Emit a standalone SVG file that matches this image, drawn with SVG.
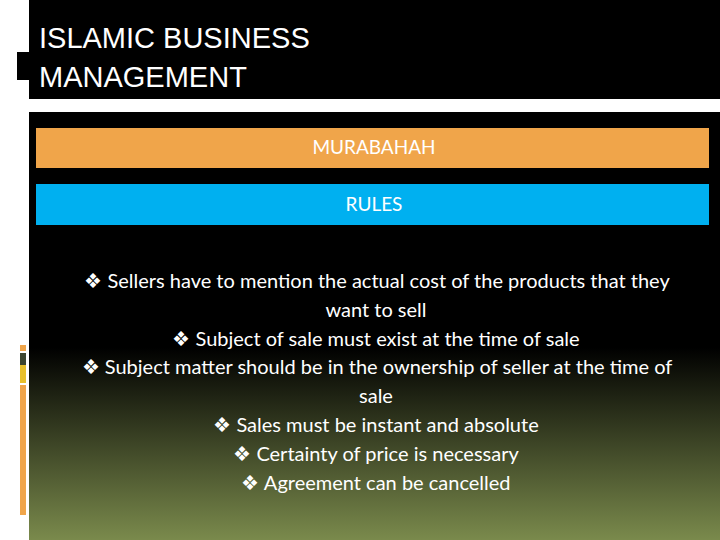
<svg xmlns="http://www.w3.org/2000/svg" width="720" height="540" viewBox="0 0 720 540">
<defs>
<linearGradient id="bg" x1="0" y1="0" x2="0" y2="1">
<stop offset="0" stop-color="#000"/>
<stop offset="0.55" stop-color="#000"/>
<stop offset="1" stop-color="#7a8a4c"/>
</linearGradient>
<style>
.b{font-family:Lato,"Open Sans",sans-serif;font-size:20px;fill:#fff;text-anchor:middle}
.h{font-family:"Liberation Sans",Arial,sans-serif;font-size:29px;fill:#fff}
</style>
</defs>
<rect width="720" height="540" fill="#fff"/>
<g id="header">
<rect x="29" y="0" width="691" height="99" fill="#000"/>
<rect x="17" y="52" width="12" height="28" fill="#000"/>
<text class="h" x="39" y="48">ISLAMIC BUSINESS</text>
<text class="h" x="39" y="87">MANAGEMENT</text>
</g>
<g id="body">
<rect x="29" y="112" width="691" height="428" fill="url(#bg)"/>
<rect x="20" y="345" width="6" height="6" fill="#f0a54a"/>
<rect x="20" y="353" width="6" height="12" fill="#3c4530"/>
<rect x="20" y="365" width="6" height="18" fill="#e8c02c"/>
<rect x="20" y="385" width="6" height="130" fill="#f0a54a"/>
</g>
<g id="murabahah">
<rect x="36" y="128" width="673" height="40" fill="#f0a54a"/>
<text class="b" x="374" y="154" style="font-size:19px">MURABAHAH</text>
</g>
<g id="rules">
<rect x="36" y="184" width="673" height="41" fill="#00b0f0"/>
<text class="b" x="374" y="211" style="font-size:19px">RULES</text>
</g>
<g id="list">
<text class="b" x="377" y="288">❖ Sellers have to mention the actual cost of the products that they</text>
<text class="b" x="376" y="317">want to sell</text>
<text class="b" x="376" y="346">❖ Subject of sale must exist at the time of sale</text>
<text class="b" x="377" y="374">❖ Subject matter should be in the ownership of seller at the time of</text>
<text class="b" x="376" y="403">sale</text>
<text class="b" x="376" y="432">❖ Sales must be instant and absolute</text>
<text class="b" x="376" y="461">❖ Certainty of price is necessary</text>
<text class="b" x="376" y="490">❖ Agreement can be cancelled</text>
</g>
</svg>
